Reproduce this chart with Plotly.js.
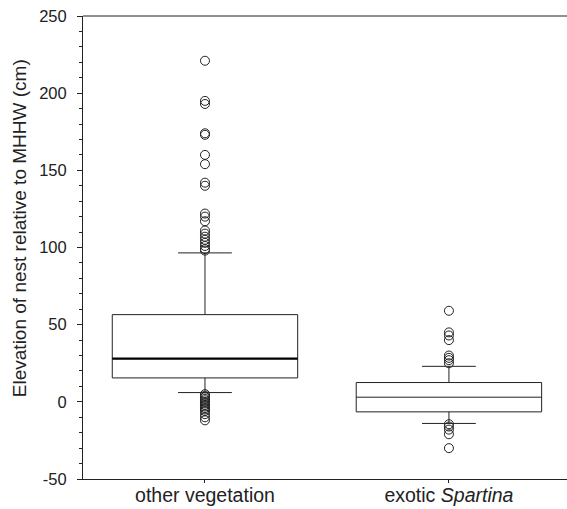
<!DOCTYPE html>
<html>
<head>
<meta charset="utf-8">
<script src="https://cdn.plot.ly/plotly-3.0.1.min.js"></script>
<style>html,body{margin:0;padding:0;background:#fff;}#chart{width:567px;height:509px;}</style>
</head>
<body>
<div id="chart"></div>
<script>
// Categories and tick labels
const categories = [0, 1];
const tickLabels = ["other vegetation", "exotic <i>Spartina</i>"];
const yTickVals = [-50, 0, 50, 100, 150, 200, 250];
const yTickText = ["-50", "0", "50", "100", "150", "200", "250"];
const yTitle = "Elevation of nest relative to MHHW (cm)";

// Box statistics (cm relative to MHHW)
const q1 = [15.5, -6.5];
const median = [28, 3];
const q3 = [56.5, 12.5];
const lowerWhisker = [6, -14];
const upperWhisker = [96.5, 23];

// Outliers
const outliersOther = [221, 195, 193, 174, 173, 160, 154, 142, 140, 122, 120, 117, 111, 109, 107, 105, 103, 101, 99, 98,
                       5, 4, 3, 2, 1, 0, -1, -2, -3, -4, -5, -6, -8, -10, -12];
const outliersSpartina = [59, 45, 43, 40, 30, 28.5, 27, 25,
                          -14.5, -16, -18, -21, -30];

const boxWidth = 0.76;
const ink = "#222";

const outX = outliersOther.map(() => categories[0]).concat(outliersSpartina.map(() => categories[1]));
const outY = outliersOther.concat(outliersSpartina);

const traces = [
  {
    type: "box",
    x: categories,
    q1: q1, median: median, q3: q3,
    lowerfence: lowerWhisker, upperfence: upperWhisker,
    width: boxWidth,
    whiskerwidth: 0.29,
    fillcolor: "rgba(255,255,255,0)",
    line: {color: ink, width: 1},
    boxpoints: false,
    hoverinfo: "skip",
    showlegend: false
  },
  {
    type: "scatter",
    mode: "lines",
    x: [categories[0] - boxWidth / 2, categories[0] + boxWidth / 2],
    y: [median[0], median[0]],
    line: {color: "#000", width: 2.2},
    hoverinfo: "skip",
    showlegend: false
  },
  {
    type: "scatter",
    mode: "markers",
    x: outX,
    y: outY,
    marker: {symbol: "circle-open", size: 9, color: ink, line: {width: 1, color: ink}},
    hoverinfo: "skip",
    showlegend: false
  }
];

const layout = {
  width: 567,
  height: 509,
  margin: {l: 83, r: 0, t: 16, b: 30, pad: 0},
  paper_bgcolor: "#fff",
  plot_bgcolor: "#fff",
  font: {family: "Liberation Sans, Arial, sans-serif", color: ink},
  showlegend: false,
  xaxis: {
    range: [-0.5, 1.484],
    tickvals: categories,
    ticktext: tickLabels,
    ticks: "outside",
    ticklen: 3,
    tickcolor: ink,
    ticklabelstandoff: -4,
    showline: true,
    linecolor: ink,
    linewidth: 1,
    showgrid: false,
    zeroline: false,
    tickfont: {size: 19.5, color: ink},
    fixedrange: true
  },
  yaxis: {
    range: [-50, 250],
    tickvals: yTickVals,
    ticktext: yTickText,
    ticks: "outside",
    ticklen: 5,
    tickcolor: ink,
    ticklabelstandoff: 7,
    minor: {dtick: 10, ticks: "outside", ticklen: 3, tickcolor: ink, showgrid: false},
    showline: true,
    linecolor: ink,
    linewidth: 1,
    showgrid: false,
    zeroline: false,
    tickfont: {size: 16.5, color: ink},
    fixedrange: true
  },
  annotations: [
    {text: yTitle, xref: "paper", yref: "paper", x: -0.132, y: 0.542,
     xanchor: "center", yanchor: "middle", textangle: -90, showarrow: false,
     font: {size: 19, color: ink}}
  ],
  shapes: [
    {type: "line", xref: "paper", yref: "paper", x0: 0, x1: 1, y0: 1, y1: 1, line: {color: ink, width: 1}}
  ]
};

Plotly.newPlot("chart", traces, layout, {staticPlot: true, displayModeBar: false});
</script>
</body>
</html>
